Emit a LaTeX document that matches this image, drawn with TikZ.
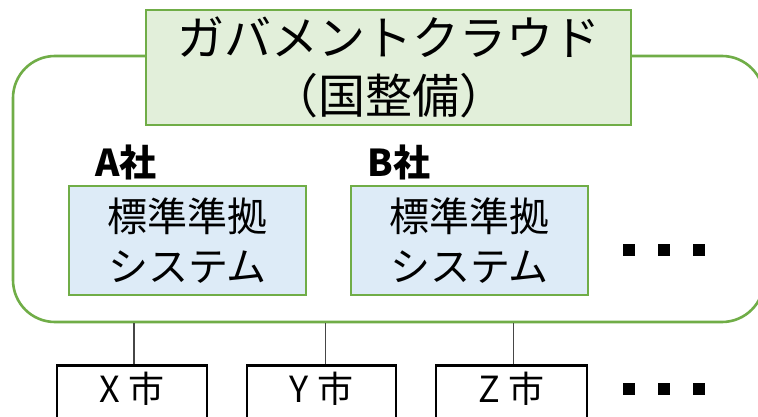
\documentclass[tikz,border=0pt]{standalone}
\usepackage{fontspec}
\setmainfont{Noto Sans CJK JP}
\definecolor{gborder}{RGB}{112,173,71}
\definecolor{gfill}{RGB}{226,239,218}
\definecolor{bfill}{RGB}{221,235,247}
\definecolor{conncol}{RGB}{70,70,70}
\begin{document}
\begin{tikzpicture}[x=1pt,y=-1pt,
  cloudbox/.style={draw=gborder, line width=2.6pt, rounded corners=42pt, inner sep=0pt},
  titlebox/.style={draw=gborder, fill=gfill, line width=2.6pt, align=center, inner sep=0pt,
    font=\fontsize{47}{58}\selectfont},
  sysbox/.style={draw=gborder, fill=bfill, line width=2.6pt, align=center, inner sep=0pt,
    minimum width=237pt, minimum height=109pt, font=\fontsize{40}{50}\selectfont},
  company/.style={font=\bfseries\fontsize{37}{40}\selectfont, inner sep=0pt},
  citybox/.style={draw=black, line width=2.6pt, anchor=north, inner xsep=0pt, inner ysep=0pt,
    text height=37pt, text depth=30pt, font=\fontsize{36}{40}\selectfont},
  conn/.style={draw=conncol, line width=1.4pt},
  dotbox/.style={fill=black, minimum size=12pt, inner sep=0pt}
]
\clip (0,0) rectangle (758,417);
\fill[white] (0,0) rectangle (758,417);
\node[cloudbox, minimum width=751pt, minimum height=266pt] (cloud) at (388.5,189) {};
\node[titlebox, minimum width=485pt, minimum height=115pt] (title) at (388.5,67.5) {ガバメントクラウド\\（国整備）};
\node[company] (ca) at (126,162) {A社};
\node[company] (cb) at (399,162) {B社};
\node[sysbox] (sa) at (187.5,240.5) {標準準拠\\システム};
\node[sysbox] (sb) at (469.5,240.5) {標準準拠\\システム};
\node[dotbox] (d1) at (629,250) {};
\node[dotbox] (d2) at (664,250) {};
\node[dotbox] (d3) at (699,250) {};
\node[citybox, minimum width=150pt] (cx) at (132,364) {X 市};
\node[citybox, minimum width=149pt] (cy) at (321.5,364) {Y 市};
\node[citybox, minimum width=151pt] (cz) at (511.5,364) {Z 市};
\node[dotbox] (e1) at (629,389) {};
\node[dotbox] (e2) at (664,389) {};
\node[dotbox] (e3) at (699,389) {};
\draw[conn] ([xshift=2pt]cx.north) -- ([xshift=2pt]cx.north |- cloud.south);
\draw[conn] ([xshift=4pt]cy.north) -- ([xshift=4pt]cy.north |- cloud.south);
\draw[conn] ([xshift=2pt]cz.north) -- ([xshift=2pt]cz.north |- cloud.south);
\end{tikzpicture}
\end{document}
